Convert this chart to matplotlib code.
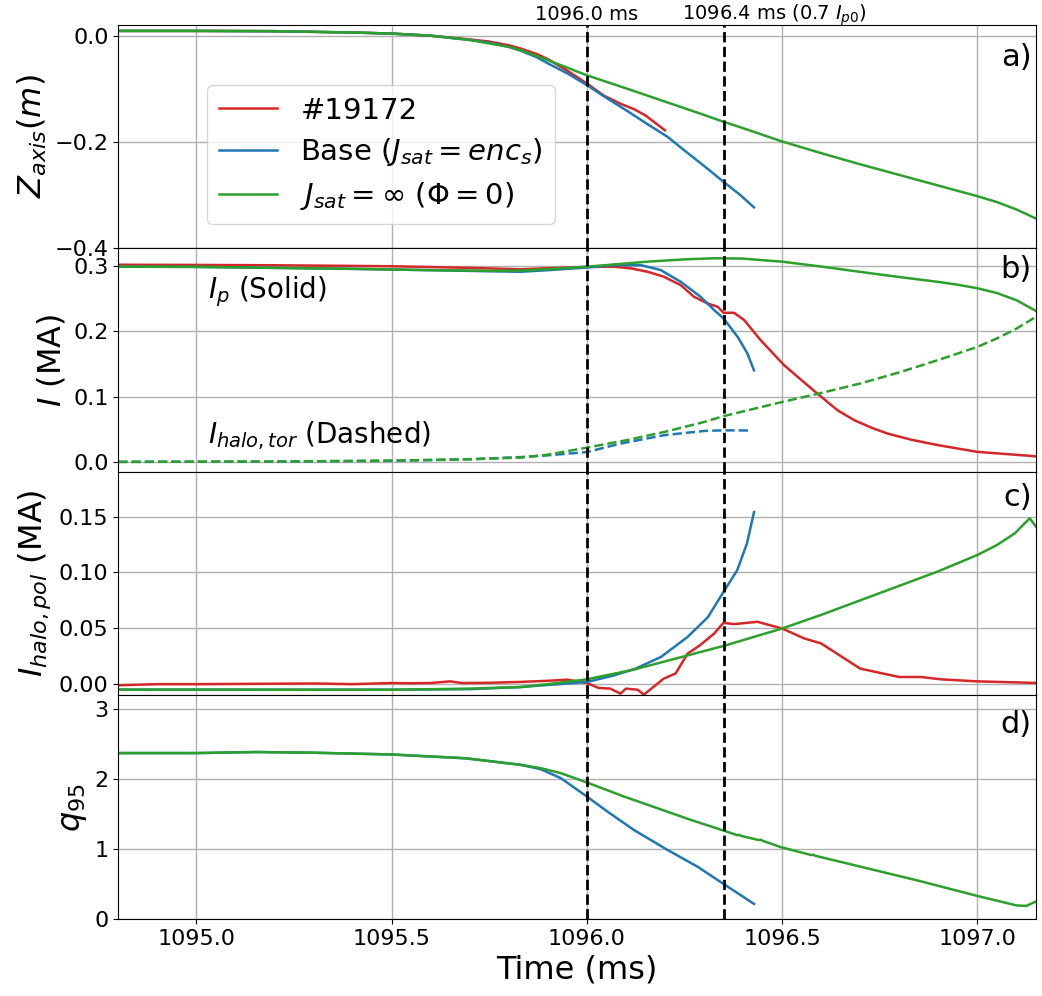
import matplotlib
matplotlib.use("Agg")
import matplotlib.pyplot as plt

# ---------------- data ----------------
# Panel a: vertical position of the magnetic axis (m)
t_za_exp = [1094.8, 1095.0, 1095.2, 1095.4, 1095.5, 1095.6, 1095.7, 1095.75, 1095.8, 1095.83,
            1095.87, 1095.9, 1095.95, 1096.0, 1096.044, 1096.086, 1096.12, 1096.15, 1096.2]
za_exp = [0.009, 0.009, 0.0085, 0.006, 0.004, 0.0, -0.007, -0.011, -0.018, -0.024,
          -0.034, -0.044, -0.066, -0.090, -0.113, -0.128, -0.138, -0.150, -0.178]

t_za_base = [1094.8, 1095.0, 1095.2, 1095.4, 1095.5, 1095.6, 1095.7, 1095.75, 1095.8, 1095.83,
             1095.87, 1095.9, 1095.95, 1096.0, 1096.05, 1096.1, 1096.15, 1096.206, 1096.25,
             1096.3, 1096.35, 1096.39, 1096.428]
za_base = [0.009, 0.009, 0.0085, 0.006, 0.004, 0.0, -0.008, -0.013, -0.021, -0.028,
           -0.040, -0.052, -0.071, -0.093, -0.117, -0.140, -0.164, -0.190, -0.216,
           -0.245, -0.275, -0.298, -0.323]

t_za_inf = [1094.8, 1095.0, 1095.2, 1095.4, 1095.5, 1095.6, 1095.7, 1095.8, 1095.83, 1095.9,
            1096.0, 1096.1, 1096.2, 1096.3, 1096.35, 1096.4, 1096.5, 1096.6, 1096.7, 1096.8,
            1096.9, 1097.0, 1097.05, 1097.1, 1097.15]
za_inf = [0.009, 0.009, 0.0085, 0.006, 0.004, 0.0, -0.008, -0.021, -0.027, -0.046,
          -0.0745, -0.099, -0.124, -0.149, -0.162, -0.174, -0.199, -0.221, -0.242, -0.262,
          -0.282, -0.302, -0.313, -0.327, -0.344]

# Panel b: plasma current (solid) and toroidal halo current (dashed), MA
t_ip_exp = [1094.8, 1095.0, 1095.2, 1095.4, 1095.5, 1095.7, 1095.83, 1095.9, 1096.0, 1096.069,
            1096.112, 1096.155, 1096.197, 1096.24, 1096.274, 1096.309, 1096.335, 1096.35,
            1096.377, 1096.403, 1096.445, 1096.505, 1096.54, 1096.59, 1096.642, 1096.685,
            1096.73, 1096.77, 1096.83, 1096.898, 1097.0, 1097.15]
ip_exp = [0.3018, 0.3015, 0.301, 0.300, 0.2995, 0.297, 0.2948, 0.2965, 0.2985, 0.2988,
          0.2963, 0.2911, 0.2835, 0.2707, 0.2528, 0.2426, 0.2374, 0.2282,
          0.2282, 0.217, 0.1863, 0.148, 0.130, 0.1046, 0.079, 0.0637,
          0.052, 0.0433, 0.034, 0.0257, 0.0153, 0.0085]

t_ip_base = [1094.8, 1095.0, 1095.2, 1095.4, 1095.6, 1095.75, 1095.83, 1095.9, 1096.0, 1096.069,
             1096.138, 1096.189, 1096.24, 1096.291, 1096.326, 1096.35, 1096.386, 1096.411,
             1096.428]
ip_base = [0.2988, 0.2985, 0.297, 0.2955, 0.2935, 0.2918, 0.291, 0.2935, 0.2975, 0.3012,
           0.3012, 0.2937, 0.2758, 0.2528, 0.2324, 0.2196, 0.1914, 0.166,
           0.140]

t_ip_inf = [1094.8, 1095.0, 1095.2, 1095.4, 1095.6, 1095.75, 1095.83, 1095.9, 1096.0, 1096.155,
            1096.25, 1096.326, 1096.4, 1096.445, 1096.5, 1096.6, 1096.727, 1096.8, 1096.9,
            1096.95, 1097.0, 1097.05, 1097.1, 1097.15]
ip_inf = [0.2988, 0.2985, 0.297, 0.2955, 0.2935, 0.2925, 0.2928, 0.295, 0.2988, 0.3065,
          0.310, 0.3117, 0.3112, 0.309, 0.3065, 0.299, 0.2887, 0.283, 0.2755,
          0.2712, 0.2658, 0.2585, 0.2475, 0.231]

t_ih_base = [1094.8, 1095.2, 1095.5, 1095.7, 1095.83, 1095.9, 1096.0, 1096.086, 1096.2,
             1096.3, 1096.35, 1096.42]
ih_base = [0.0, 0.0005, 0.0015, 0.004, 0.0073, 0.010, 0.015, 0.028, 0.041,
           0.0473, 0.0483, 0.048]

t_ih_inf = [1094.8, 1095.2, 1095.5, 1095.7, 1095.83, 1095.9, 1096.0, 1096.1, 1096.2, 1096.3,
            1096.35, 1096.5, 1096.59, 1096.7, 1096.8, 1096.9, 1097.0, 1097.05, 1097.1, 1097.15]
ih_inf = [0.0, 0.0005, 0.002, 0.004, 0.0065, 0.011, 0.0218, 0.033, 0.046, 0.061,
          0.070, 0.0917, 0.104, 0.120, 0.137, 0.156, 0.176, 0.189, 0.204, 0.222]

# Panel c: poloidal halo current (MA)
t_hp_exp = [1094.8, 1094.9, 1095.0, 1095.1, 1095.2, 1095.3, 1095.4, 1095.5, 1095.55, 1095.6,
            1095.65, 1095.68, 1095.75, 1095.83, 1095.9, 1095.95, 1096.0, 1096.03, 1096.06,
            1096.086, 1096.1, 1096.13, 1096.146, 1096.17, 1096.197, 1096.227, 1096.258,
            1096.29, 1096.326, 1096.35, 1096.377, 1096.41, 1096.437, 1096.5, 1096.556,
            1096.6, 1096.7, 1096.8, 1096.855, 1096.907, 1097.0, 1097.15]
hp_exp = [-0.001, 0.0, 0.0, 0.0002, 0.0004, 0.0006, 0.0, 0.001, 0.0008, 0.001,
          0.0025, 0.001, 0.0012, 0.002, 0.003, 0.004, 0.001, -0.0034, -0.004,
          -0.0085, -0.004, -0.005, -0.0094, -0.0026, 0.005, 0.0095, 0.0274,
          0.0349, 0.0453, 0.0549, 0.0537, 0.0549, 0.0558, 0.0498, 0.041,
          0.0364, 0.0139, 0.0064, 0.0064, 0.0043, 0.0025, 0.0011]

t_hp_base = [1094.8, 1095.5, 1095.7, 1095.83, 1096.0, 1096.07, 1096.125, 1096.19, 1096.258,
             1096.31, 1096.35, 1096.385, 1096.41, 1096.428]
hp_base = [-0.0049, -0.005, -0.0045, -0.0026, 0.0019, 0.0079, 0.0139, 0.0244, 0.0423,
           0.060, 0.0826, 0.102, 0.126, 0.154]

t_hp_inf = [1094.8, 1095.5, 1095.7, 1095.83, 1095.9, 1096.0, 1096.12, 1096.26, 1096.35,
            1096.5, 1096.6, 1096.7, 1096.8, 1096.9, 1097.0, 1097.05, 1097.096, 1097.134,
            1097.15]
hp_inf = [-0.0049, -0.005, -0.004, -0.0026, 0.0, 0.0043, 0.013, 0.0259, 0.0342,
          0.0498, 0.062, 0.075, 0.088, 0.101, 0.1156, 0.1245, 0.135, 0.1485,
          0.141]

# Panel d: edge safety factor
t_q_base = [1094.8, 1095.0, 1095.155, 1095.3, 1095.5, 1095.69, 1095.83, 1095.881, 1095.933,
            1096.0, 1096.052, 1096.12, 1096.206, 1096.283, 1096.35, 1096.428]
q_base = [2.375, 2.375, 2.39, 2.38, 2.355, 2.30, 2.207, 2.146, 2.017,
          1.753, 1.54, 1.276, 0.99, 0.75, 0.502, 0.216]

t_q_inf = [1094.8, 1095.0, 1095.155, 1095.3, 1095.5, 1095.69, 1095.83, 1095.881, 1095.933,
           1096.0, 1096.095, 1096.18, 1096.266, 1096.35, 1096.385, 1096.39, 1096.395,
           1096.44, 1096.445, 1096.45, 1096.497, 1096.575, 1096.58, 1096.585, 1096.7,
           1096.855, 1097.0, 1097.1, 1097.125, 1097.15]
q_inf = [2.375, 2.375, 2.39, 2.38, 2.355, 2.30, 2.207, 2.16, 2.088,
         1.954, 1.753, 1.587, 1.419, 1.266, 1.2, 1.205, 1.19,
         1.13, 1.135, 1.12, 1.028, 0.915, 0.92, 0.905, 0.75,
         0.54, 0.33, 0.195, 0.187, 0.25]

# Event times (ms) and their labels
event_times = [1096.0, 1096.35]
event_labels = ["1096.0 ms", "1096.4 ms (0.7 $I_{p0}$)"]
event_label_x = [1096.0, 1096.48]

legend_labels = ["#19172", r"Base ($J_{sat} = enc_s$)", r"$J_{sat} = \infty\ (\Phi = 0)$"]
panel_tags = ["a)", "b)", "c)", "d)"]

C_EXP = "tab:red"
C_BASE = "tab:blue"
C_INF = "tab:green"

# ---------------- figure ----------------
fig, axes = plt.subplots(4, 1, sharex=True, figsize=(10.42, 9.96), dpi=100)
fig.subplots_adjust(left=0.1135, right=0.9942, bottom=0.0773, top=0.9752, hspace=0)
ax_a, ax_b, ax_c, ax_d = axes

LW = 1.8
LABEL_FS = 23

# a) Z_axis
ax_a.plot(t_za_exp, za_exp, color=C_EXP, lw=LW, label=legend_labels[0])
ax_a.plot(t_za_base, za_base, color=C_BASE, lw=LW, label=legend_labels[1])
ax_a.plot(t_za_inf, za_inf, color=C_INF, lw=LW, label=legend_labels[2])
ax_a.set_ylim(-0.4, 0.0207)
ax_a.set_yticks([-0.4, -0.2, 0.0])
ax_a.set_ylabel(r"$Z_{axis}(m)$", fontsize=LABEL_FS)

# b) currents
ax_b.plot(t_ip_exp, ip_exp, color=C_EXP, lw=LW)
ax_b.plot(t_ip_base, ip_base, color=C_BASE, lw=LW)
ax_b.plot(t_ip_inf, ip_inf, color=C_INF, lw=LW)
ax_b.plot(t_ih_base, ih_base, color=C_BASE, lw=LW, ls="--")
ax_b.plot(t_ih_inf, ih_inf, color=C_INF, lw=LW, ls="--")
ax_b.set_ylim(-0.0153, 0.327)
ax_b.set_yticks([0.0, 0.1, 0.2, 0.3])
ax_b.set_ylabel(r"$I$ (MA)", fontsize=LABEL_FS)
ax_b.text(1095.03, 0.25, r"$I_p$ (Solid)", fontsize=20)
ax_b.text(1095.03, 0.028, r"$I_{halo,tor}$ (Dashed)", fontsize=20)

# c) poloidal halo current
ax_c.plot(t_hp_exp, hp_exp, color=C_EXP, lw=LW)
ax_c.plot(t_hp_base, hp_base, color=C_BASE, lw=LW)
ax_c.plot(t_hp_inf, hp_inf, color=C_INF, lw=LW)
ax_c.set_ylim(-0.0101, 0.19)
ax_c.set_yticks([0.0, 0.05, 0.10, 0.15])
ax_c.set_yticklabels(["0.00", "0.05", "0.10", "0.15"])
ax_c.set_ylabel(r"$I_{halo,pol}$ (MA)", fontsize=LABEL_FS)

# d) q95
ax_d.plot(t_q_base, q_base, color=C_BASE, lw=LW)
ax_d.plot(t_q_inf, q_inf, color=C_INF, lw=LW)
ax_d.set_ylim(0, 3.2)
ax_d.set_yticks([0, 1, 2, 3])
ax_d.set_ylabel(r"$q_{95}$", fontsize=LABEL_FS)

ax_d.set_xlim(1094.8, 1097.15)
ax_d.set_xticks([1095.0, 1095.5, 1096.0, 1096.5, 1097.0])
ax_d.set_xlabel("Time (ms)", fontsize=LABEL_FS)

tag_y = [0.918, 0.97, 0.951, 0.936]
for ax, tag, ty in zip(axes, panel_tags, tag_y):
    ax.grid(True, color="#b0b0b0", lw=1.0)
    ax.tick_params(labelsize=16)
    for te in event_times:
        ax.axvline(te, color="black", ls="--", lw=2.0, zorder=5)
    ax.text(0.9953, ty, tag, transform=ax.transAxes, ha="right", va="top", fontsize=22)

for xl, lab in zip(event_label_x, event_labels):
    ax_a.text(xl, 1.021, lab, transform=ax_a.get_xaxis_transform(),
              ha="center", va="baseline", fontsize=14)

ax_a.legend(loc="upper left", bbox_to_anchor=(0.0967, 0.7303), borderaxespad=0,
            fontsize=21, labelspacing=0.4)

fig.savefig("out.png", dpi=100)
